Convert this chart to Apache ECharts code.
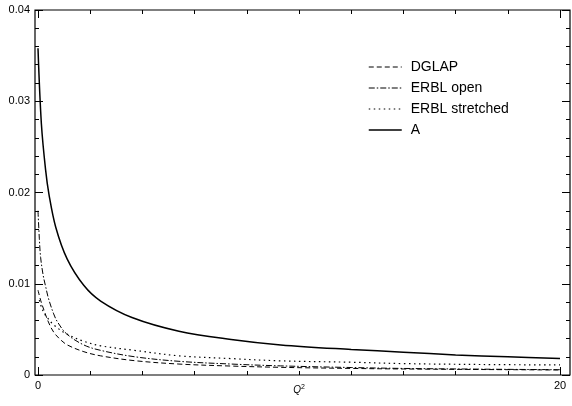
<!DOCTYPE html>
<html>
<head>
<meta charset="utf-8">
<script src="https://cdn.jsdelivr.net/npm/echarts@6/dist/echarts.min.js"></script>
<style>html,body{margin:0;padding:0;background:#fff;}#c{width:572px;height:406px;}</style>
</head>
<body>
<div id="c"></div>
<script>
// Data: [Q^2, value]
const seriesNames = ['DGLAP', 'ERBL open', 'ERBL stretched', 'A'];
const dglap = [[0,0.0093],[0.1,0.0082],[0.23,0.0071],[0.4,0.0058],[0.6,0.0047],[0.85,0.0039],[1.12,0.0033],[1.76,0.00255],[2.4,0.0021],[3.7,0.00157],[5.4,0.0012],[7.4,0.00098],[9.3,0.00084],[12,0.00072],[14,0.00066],[17,0.0006],[20,0.00055]];
const erblOpen = [[0,0.018],[0.05,0.015],[0.1,0.0129],[0.2,0.0109],[0.3,0.0096],[0.4,0.0084],[0.6,0.0067],[0.75,0.0058],[1.1,0.0045],[1.75,0.0033],[2.4,0.0027],[3.7,0.0020],[5.4,0.0015],[7.4,0.0012],[9.3,0.0010],[12,0.00082],[14,0.00072],[17,0.00064],[20,0.00058]];
const erblStretched = [[0.05,0.0082],[0.15,0.0073],[0.3,0.0065],[0.6,0.0055],[1.1,0.0045],[1.75,0.0037],[2.4,0.0032],[3.7,0.0027],[5.4,0.0021],[7.4,0.0018],[9.3,0.00155],[12,0.0014],[14,0.00125],[17,0.00115],[20,0.0011]];
const seriesA = [[0,0.0358],[0.13,0.0275],[0.29,0.0225],[0.42,0.0198],[0.68,0.0162],[1.12,0.0127],[1.76,0.0098],[2.4,0.0081],[3.6,0.0063],[5.4,0.0048],[7.4,0.0039],[9.3,0.0033],[12,0.0028],[14,0.0025],[16,0.0022],[18,0.0020],[20,0.0018]];
const xTickLabels = ['0', '20'];
const yTickLabels = ['0', '0.01', '0.02', '0.03', '0.04'];

const FONT = 'Liberation Sans, Arial, sans-serif';
const chart = echarts.init(document.getElementById('c'), null, {renderer: 'canvas'});

function xAxisDef(pos, labels) {
  return {
    gridIndex: 1, type: 'value', min: 0, max: 20, interval: 20, position: pos,
    axisLine: {show: false},
    axisTick: {show: true, inside: true, length: 8, lineStyle: {color: '#000', width: 1}},
    minorTick: {show: true, splitNumber: 10, length: 4, lineStyle: {color: '#000', width: 1}},
    splitLine: {show: false}, minorSplitLine: {show: false},
    axisLabel: {show: labels, color: '#000', fontFamily: FONT, fontSize: 11, margin: 5,
      formatter: function (v) { return v === 0 ? xTickLabels[0] : (v === 20 ? xTickLabels[1] : ''); }},
    name: labels ? '{i|Q}{s|2}' : '', nameLocation: 'middle', nameGap: 9, nameMoveOverlap: false,
    nameTextStyle: {rich: {i: {fontStyle: 'italic', fontSize: 10, fontFamily: FONT, color: '#000'},
                           s: {fontSize: 7, fontFamily: FONT, color: '#000', verticalAlign: 'top', padding: [0,0,6,0]}}}
  };
}
function yAxisDef(pos, labels) {
  return {
    gridIndex: 0, type: 'value', min: 0, max: 0.04, interval: 0.01, position: pos,
    axisLine: {show: false},
    axisTick: {show: true, inside: true, length: 8, lineStyle: {color: '#000', width: 1}},
    minorTick: {show: true, splitNumber: 5, length: 4, lineStyle: {color: '#000', width: 1}},
    splitLine: {show: false}, minorSplitLine: {show: false},
    axisLabel: {show: labels, color: '#000', fontFamily: FONT, fontSize: 11, margin: 5,
      formatter: function (v) { return yTickLabels[Math.round(v / 0.01)]; }}
  };
}
function lineSeries(name, data, type, width) {
  return {
    name: name, type: 'line', xAxisIndex: 0, yAxisIndex: 2, data: data,
    smooth: 0.35, showSymbol: false, symbol: 'none',
    lineStyle: {color: '#000', width: width, type: type},
    itemStyle: {color: '#000'}, silent: true, animation: false
  };
}

chart.setOption({
  animation: false,
  backgroundColor: '#fff',
  grid: [
    {left: 35, right: 2, top: 10, bottom: 31, show: true, borderColor: '#000', borderWidth: 1.2, backgroundColor: 'transparent', outerBoundsMode: 'none'},
    {left: 38, right: 12, top: 10, bottom: 31, outerBoundsMode: 'none'}
  ],
  xAxis: [
    xAxisDef('bottom', true),
    xAxisDef('top', false),
    {gridIndex: 0, type: 'value', min: 0, max: 1, show: false}
  ],
  yAxis: [
    yAxisDef('left', true),
    yAxisDef('right', false),
    {gridIndex: 1, type: 'value', min: 0, max: 0.04, show: false}
  ],
  legend: {
    orient: 'vertical', left: 363, top: 55, itemWidth: 33, itemHeight: 14, itemGap: 7,
    itemStyle: {opacity: 0, color: 'transparent', borderWidth: 0},
    textStyle: {color: '#000', fontFamily: FONT, fontSize: 14, padding: [0, 0, 0, 4]},
    data: [
      {name: seriesNames[0], lineStyle: {width: 1}},
      {name: seriesNames[1], lineStyle: {width: 1}},
      {name: seriesNames[2], lineStyle: {width: 1.2}},
      {name: seriesNames[3], lineStyle: {width: 1.5}}
    ],
    selectedMode: false
  },
  series: [
    lineSeries(seriesNames[0], dglap, [5, 3], 1),
    lineSeries(seriesNames[1], erblOpen, [6, 2, 1.5, 2], 1),
    lineSeries(seriesNames[2], erblStretched, [1.5, 3.5], 1.2),
    lineSeries(seriesNames[3], seriesA, 'solid', 1.5)
  ]
});
</script>
</body>
</html>
